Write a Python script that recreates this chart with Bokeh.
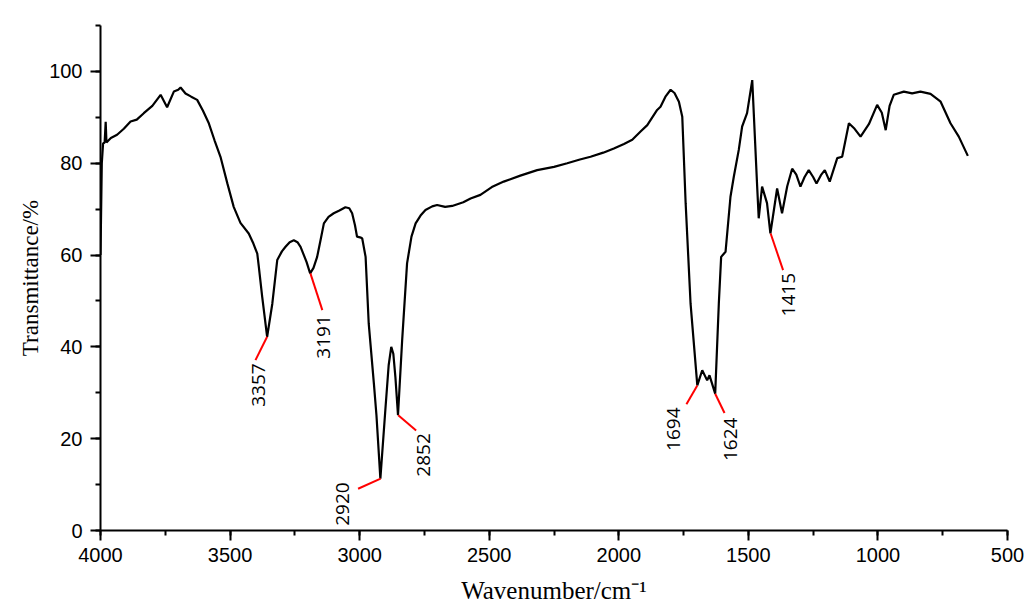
import math
from bokeh.plotting import figure
from bokeh.models import Range1d, SingleIntervalTicker, ColumnDataSource
from bokeh.core.properties import value
from bokeh.embed import file_html
from bokeh.resources import INLINE

# ---- spectrum (wavenumber cm^-1, transmittance %) ----
wavenumber = [4000, 3995, 3990, 3984, 3980, 3977, 3960, 3936, 3910, 3884, 3860, 3833, 3800,
              3768, 3743, 3717, 3700, 3691, 3672, 3650, 3627, 3605, 3582, 3560, 3537, 3510,
              3486, 3460, 3428, 3410, 3395, 3389, 3376, 3357, 3337, 3318, 3300, 3286, 3270,
              3254, 3240, 3228, 3205, 3191, 3178, 3164, 3150, 3138, 3120, 3100, 3078, 3055,
              3040, 3029, 3018, 3010, 2995, 2990, 2977, 2965, 2945, 2935, 2920, 2900, 2888,
              2878, 2870, 2862, 2852, 2836, 2817, 2800, 2784, 2765, 2746, 2720, 2701, 2670,
              2643, 2600, 2572, 2534, 2490, 2444, 2380, 2315, 2250, 2199, 2150, 2109, 2060,
              2019, 1980, 1948, 1916, 1890, 1852, 1839, 1820, 1800, 1785, 1768, 1755, 1742,
              1723, 1697, 1678, 1659, 1650, 1628, 1614, 1605, 1588, 1569, 1556, 1537, 1524,
              1505, 1485, 1466, 1460, 1447, 1428, 1415, 1389, 1370, 1350, 1331, 1315, 1299,
              1283, 1267, 1250, 1237, 1220, 1205, 1186, 1157, 1138, 1112, 1090, 1067, 1035,
              1003, 985, 970, 955, 939, 900, 868, 836, 797, 758, 720, 688, 653]
transmittance = [60.0, 80.0, 84.3, 84.5, 89.0, 84.5, 85.5, 86.2, 87.5, 89.1, 89.5, 90.9, 92.5,
                 94.9, 92.2, 95.6, 96.0, 96.5, 95.2, 94.5, 93.8, 91.5, 88.7, 85.0, 81.4, 75.5,
                 70.5, 67.0, 64.7, 62.5, 60.3, 57.4, 50.9, 42.2, 49.4, 58.9, 60.8, 61.8, 62.8,
                 63.2, 62.8, 61.8, 58.5, 56.0, 57.2, 59.6, 63.5, 66.9, 68.3, 69.1, 69.7, 70.4,
                 70.2, 69.1, 66.5, 64.0, 63.8, 63.6, 59.6, 45.1, 32.0, 25.0, 11.3, 26.9, 36.0,
                 40.0, 38.5, 33.4, 25.1, 41.4, 58.2, 64.0, 66.9, 68.6, 69.8, 70.6, 70.9, 70.5,
                 70.7, 71.5, 72.3, 73.1, 74.8, 76.0, 77.3, 78.5, 79.2, 80.0, 80.8, 81.4, 82.3,
                 83.2, 84.2, 85.1, 86.9, 88.3, 91.6, 92.3, 94.5, 96.0, 95.3, 93.4, 90.1, 71.3,
                 49.4, 31.6, 34.9, 32.7, 33.8, 29.8, 49.4, 59.6, 60.7, 72.7, 77.1, 82.9, 88.0,
                 90.9, 98.1, 74.9, 68.0, 74.9, 71.3, 64.7, 74.5, 69.1, 75.0, 78.8, 77.5, 74.9,
                 77.0, 78.5, 77.0, 75.6, 77.4, 78.5, 76.0, 81.1, 81.4, 88.7, 87.5, 85.8, 88.5,
                 92.7, 91.0, 87.2, 92.5, 94.9, 95.6, 95.2, 95.6, 95.1, 93.4, 88.7, 85.8, 81.6]

# ---- peak annotations ----
peak_labels = ["3357", "3191", "2920", "2852", "1694", "1624", "1415"]
peak_x = [3357, 3190, 2919, 2851, 1697, 1628, 1414]
peak_y = [42.2, 56.0, 11.3, 25.1, 31.6, 29.8, 64.7]
# leader line end points
lead_x = [3402, 3144, 3006, 2782, 1739, 1592, 1366]
lead_y = [37.1, 48.0, 9.1, 21.8, 27.5, 25.6, 56.7]
# label anchor (top end of the rotated text)
label_x = [3390, 3141, 3066, 2755, 1789, 1569, 1345]
label_y = [36.4, 46.9, 10.5, 21.2, 26.8, 24.6, 56.1]

x_ticks_interval = 500
y_ticks_interval = 20

p = figure(width=1026, height=608,
           x_range=Range1d(4000, 500), y_range=Range1d(0, 110),
           output_backend="svg", toolbar_location=None,
           min_border_left=100, min_border_right=19,
           min_border_top=25, min_border_bottom=78)

p.xgrid.visible = False
p.ygrid.visible = False
p.outline_line_color = None
p.background_fill_color = "white"
p.border_fill_color = "white"

p.line(wavenumber, transmittance, line_color="black", line_width=2.2)

p.segment(x0=peak_x, y0=peak_y, x1=lead_x, y1=lead_y, line_color="red", line_width=2)

src = ColumnDataSource(dict(x=label_x, y=label_y, t=peak_labels))
p.text(x="x", y="y", text="t", source=src, angle=math.pi / 2,
       text_align="right", text_baseline="middle",
       text_font=value("Open Sans"), text_font_size="19px", text_color="black")

xa = p.xaxis[0]
xa.ticker = SingleIntervalTicker(interval=x_ticks_interval, num_minor_ticks=2)
ya = p.yaxis[0]
ya.ticker = SingleIntervalTicker(interval=y_ticks_interval, num_minor_ticks=2)

for ax in (xa, ya):
    ax.axis_line_width = 2
    ax.axis_line_color = "black"
    ax.major_tick_line_width = 2
    ax.minor_tick_line_width = 2
    ax.major_tick_line_color = "black"
    ax.minor_tick_line_color = "black"
    ax.major_tick_in = 0
    ax.minor_tick_in = 0
    ax.major_tick_out = 10
    ax.minor_tick_out = 5
    ax.major_label_text_font = "Liberation Sans"
    ax.major_label_text_font_size = "20px"
    ax.major_label_text_color = "black"
    ax.axis_label_text_font = "Liberation Serif"
    ax.axis_label_text_font_style = "normal"
    ax.axis_label_text_color = "black"

xa.axis_label = "Wavenumber/cm\u207b\u00b9"
xa.axis_label_text_font_size = "25px"
xa.major_label_standoff = 7
xa.axis_label_standoff = 12
ya.axis_label = "Transmittance/%"
ya.axis_label_text_font_size = "23px"
ya.major_label_standoff = 8
ya.axis_label_standoff = 3

open("out.html", "w").write(file_html(p, INLINE))
